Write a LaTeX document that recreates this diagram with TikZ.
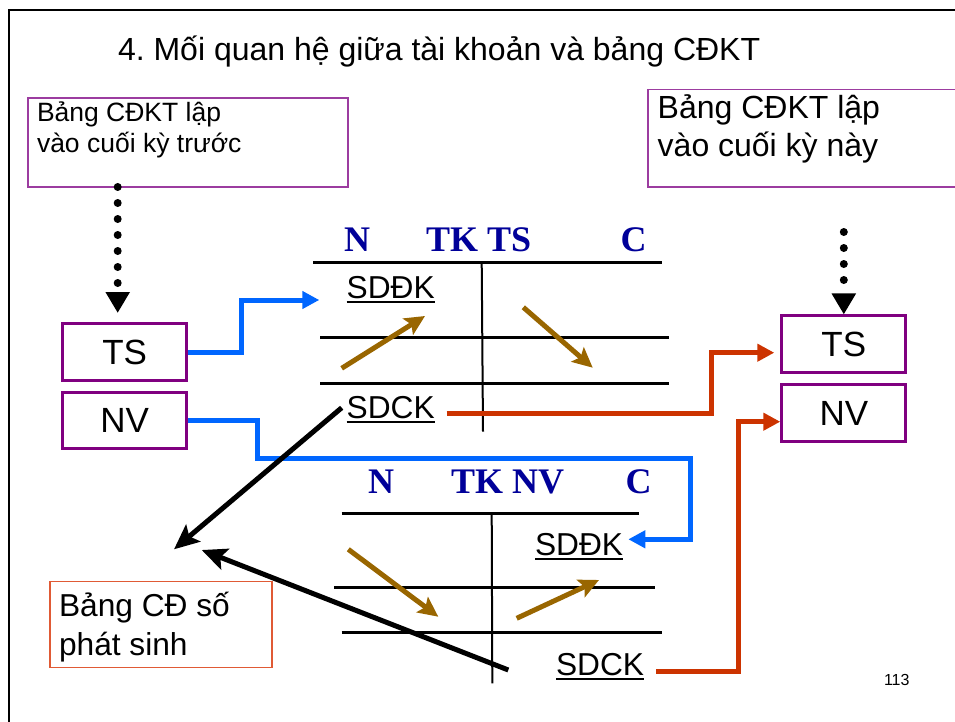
\documentclass[tikz,border=0pt]{standalone}
\usepackage{fontspec}
\setmainfont{Liberation Sans}
\newfontfamily\serifhdr{Liberation Serif}
\usetikzlibrary{arrows.meta,calc}
\frenchspacing
\definecolor{boxpurple}{HTML}{800080}
\definecolor{thinpurple}{HTML}{9C3CA0}
\definecolor{hdrblue}{HTML}{000099}
\definecolor{tbrown}{HTML}{996600}
\definecolor{tred}{HTML}{CC3300}
\definecolor{tblue}{HTML}{0066FF}
\definecolor{torange}{HTML}{E05A35}
\newcommand{\myul}[1]{\setbox0\hbox{#1}\rlap{\rule[-5pt]{\wd0}{2pt}}\box0}
\tikzset{
  lbl/.style={anchor=base west, inner sep=0pt, outer sep=0pt},
  hdr/.style={lbl, text=hdrblue, font=\serifhdr\bfseries\fontsize{36}{36}\selectfont},
  acct/.style={lbl, font=\fontsize{31.7}{32}\selectfont},
  bigbox/.style={draw=boxpurple, line width=3pt, minimum width=124pt, minimum height=56.5pt, inner sep=0pt, font=\fontsize{35}{35}\selectfont},
  notebox/.style={line width=1.6pt, anchor=north west, inner sep=0pt},
  tline/.style={line width=2.6pt},
  vline/.style={line width=2pt},
  bluearr/.style={draw=tblue, line width=5pt, -{Triangle[length=17pt,width=17pt]}},
  redarr/.style={draw=tred, line width=5pt, -{Triangle[length=17pt,width=17pt]}},
  brownarr/.style={draw=tbrown, line width=5pt, -{Stealth[length=20pt,width=19pt,inset=4pt]}},
  blackarr/.style={draw=black, line width=5pt, -{Stealth[length=25pt,width=22pt,inset=5pt]}},
  dotarr/.style={line width=8pt, line cap=round, dash pattern=on 0pt off 16pt, -{Triangle[length=21pt,width=23pt]}},
}
\begin{document}
\begin{tikzpicture}[x=1pt,y=-1pt]
\useasboundingbox (0,0) rectangle (955,722);
% frame
\draw[line width=2pt] (9,722) -- (9,10) -- (955,10);
% title
\node[lbl, font=\fontsize{32}{32}\selectfont] (title) at (118,61) {4. Mối quan hệ giữa tài khoản và bảng CĐKT};
% note boxes
\node[notebox, draw=thinpurple, minimum width=320pt, minimum height=89.4pt] (box1) at (27.3,97) {};
\node[lbl, font=\fontsize{26.5}{26.5}\selectfont] (t1a) at (37,122) {Bảng CĐKT lập};
\node[lbl, font=\fontsize{26.5}{26.5}\selectfont] (t1b) at (37,153) {vào cuối kỳ trước};
\node[notebox, draw=thinpurple, minimum width=320pt, minimum height=97.6pt] (box2) at (647.3,88.7) {};
\node[lbl, font=\fontsize{32}{32}\selectfont] (t2a) at (657.7,119) {Bảng CĐKT lập};
\node[lbl, font=\fontsize{32}{32}\selectfont] (t2b) at (657.7,157) {vào cuối kỳ này};
\node[notebox, draw=torange, minimum width=222pt, minimum height=86pt] (box3) at (49,580.7) {};
\node[lbl, font=\fontsize{31.7}{32}\selectfont] (t3a) at (59,616.7) {Bảng CĐ số};
\node[lbl, font=\fontsize{31.7}{32}\selectfont] (t3b) at (59,655) {phát sinh};
% TS / NV boxes
\node[bigbox] (tsL) at (124.7,352) {TS};
\node[bigbox] (nvL) at (124.7,420.7) {NV};
\node[bigbox] (tsR) at (843.8,344.2) {TS};
\node[bigbox] (nvR) at (843.8,413) {NV};
% dotted arrows
\coordinate (dL1) at (117.7,187);
\coordinate (dL2) at (117.7,313);
\draw[dotarr] (dL1) -- (dL2);
\coordinate (dR1) at (tsR.north |- 0,232);
\draw[dotarr] (dR1) -- (tsR.north);
% top T-account (TK TS)
\node[hdr] (hN1) at (344,251.7) {N};
\node[hdr] (hT1) at (426,251.7) {TK TS};
\node[hdr] (hC1) at (620.5,251.7) {C};
\draw[tline] (313,262.3) -- (661.7,262.3);
\draw[tline] (320,337.7) -- (669,337.7);
\draw[tline] (320,383.3) -- (669,383.3);
\draw[vline] (481.7,262.3) -- (483,431.7);
\node[acct] (sddk1) at (346.7,298.3) {\myul{SDĐK}};
\node[acct] (sdck1) at (346.7,418.3) {\myul{SDCK}};
% bottom T-account (TK NV)
\node[hdr] (hN2) at (368,493.3) {N};
\node[hdr] (hT2) at (451,493.3) {TK NV};
\node[hdr] (hC2) at (625.5,493.3) {C};
\draw[tline] (341.7,513.3) -- (639.3,513.3);
\draw[tline] (334.3,587.3) -- (655,587.3);
\draw[tline] (341.7,632.7) -- (661.7,632.7);
\draw[vline] (491.7,513.3) -- (492.3,683.3);
\node[acct] (sddk2) at (535,555) {\myul{SDĐK}};
\node[acct] (sdck2) at (556,675) {\myul{SDCK}};
% brown arrows
\coordinate (br1a) at (341.7,368.3); \coordinate (br1b) at (425,316);
\coordinate (br2a) at (523.3,307.3); \coordinate (br2b) at (592.7,367.7);
\coordinate (br3a) at (348.3,549.3); \coordinate (br3b) at (438.3,616.7);
\coordinate (br4a) at (516.7,618.3); \coordinate (br4b) at (599,580);
\draw[brownarr] (br1a) -- (br1b);
\draw[brownarr] (br2a) -- (br2b);
\draw[brownarr] (br3a) -- (br3b);
\draw[brownarr] (br4a) -- (br4b);
% blue connectors
\coordinate (b1end) at (319.3,300);
\draw[bluearr] (tsL.east) -- ++(53.6,0) |- (b1end);
\coordinate (b2end) at (628.3,539.3);
\draw[bluearr] (nvL.east) -- ++(69.7,0) |- (690,458.5) |- (b2end);
% red connectors
\coordinate (r1start) at (446.7,413.3);
\draw[redarr] (r1start) -- (711,413.3) |- ($(tsR.west)+(-6,8.5)$);
\coordinate (r2start) at (656,671);
\draw[redarr] (r2start) -- (738.5,671) |- ($(nvR.west)+(0,8.7)$);
% black connectors
\coordinate (k1end) at (174,549.3);
\coordinate (k2start) at (508.3,670);
\coordinate (k2end) at (201.7,550);
\draw[blackarr] ($(sdck1.west)+(-5,-2)$) -- (k1end);
\draw[blackarr] (k2start) -- (k2end);
% page number
\node[lbl, font=\fontsize{16}{16}\selectfont] (pg) at (884,685) {113};
\end{tikzpicture}
\end{document}
